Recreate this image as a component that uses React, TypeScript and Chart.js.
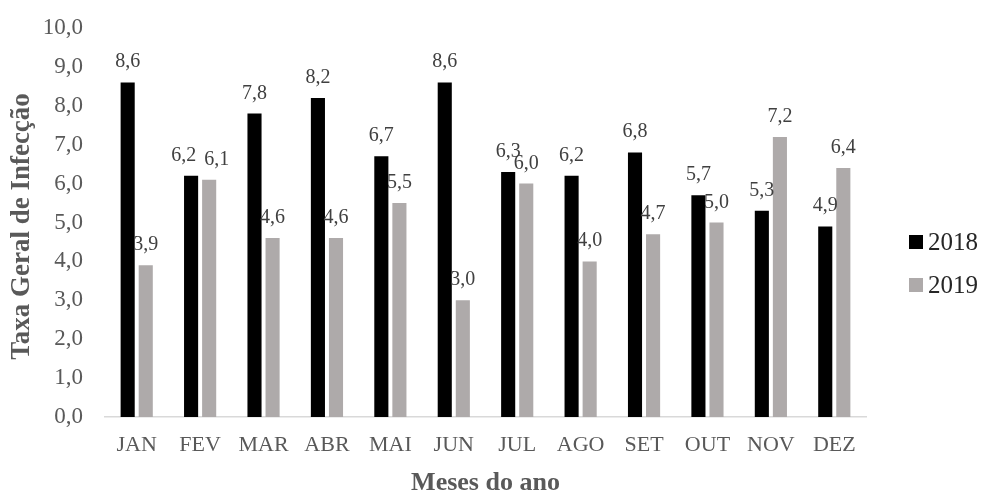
import React, { useEffect, useRef } from "react";
import { Chart, registerables } from "chart.js";

Chart.register(...registerables);

const months = ["JAN", "FEV", "MAR", "ABR", "MAI", "JUN", "JUL", "AGO", "SET", "OUT", "NOV", "DEZ"];
const rate2018 = [8.6, 6.2, 7.8, 8.2, 6.7, 8.6, 6.3, 6.2, 6.8, 5.7, 5.3, 4.9];
const rate2019 = [3.9, 6.1, 4.6, 4.6, 5.5, 3.0, 6.0, 4.0, 4.7, 5.0, 7.2, 6.4];
const seriesNames = ["2018", "2019"];
const seriesColors = ["#000000", "#AEAAAA"];
const xTitle = "Meses do ano";
const yTitle = "Taxa Geral de Infecção";

const FONT = "'Liberation Serif', 'Times New Roman', serif";
const fmt = (v: number) => v.toFixed(1).replace(".", ",");

// Value labels above each bar; the two labels of a month are pushed apart
// sideways when they would sit on top of each other.
const valueLabels = {
  id: "valueLabels",
  afterDatasetsDraw(chart: any) {
    const ctx = chart.ctx;
    ctx.save();
    ctx.font = `20px ${FONT}`;
    ctx.fillStyle = "#404040";
    ctx.textAlign = "center";
    ctx.textBaseline = "alphabetic";
    const a = chart.getDatasetMeta(0).data;
    const b = chart.getDatasetMeta(1).data;
    const da = chart.data.datasets[0].data;
    const db = chart.data.datasets[1].data;
    for (let i = 0; i < a.length; i++) {
      const ta = fmt(da[i]);
      const tb = fmt(db[i]);
      let xa = a[i].x;
      let xb = b[i].x;
      const ya = a[i].y - 15;
      const yb = b[i].y - 15;
      const wa = ctx.measureText(ta).width;
      const wb = ctx.measureText(tb).width;
      const need = (wa + wb) / 2 + 8;
      if (Math.abs(ya - yb) < 10 && xb - xa < need) {
        const mid = (xa + xb) / 2;
        xa = mid - need / 2;
        xb = mid + need / 2;
      }
      ctx.fillText(ta, xa, ya);
      ctx.fillText(tb, xb, yb);
    }
    ctx.restore();
  },
};

// Axis titles
const axisTitles = {
  id: "axisTitles",
  afterDraw(chart: any) {
    const ctx = chart.ctx;
    const area = chart.chartArea;
    ctx.save();
    ctx.fillStyle = "#595959";
    ctx.textAlign = "center";
    ctx.textBaseline = "alphabetic";
    ctx.font = `bold 26px ${FONT}`;
    ctx.fillText(xTitle, (area.left + area.right) / 2, 490);
    ctx.translate(29, (area.top + area.bottom) / 2 + 4);
    ctx.rotate(-Math.PI / 2);
    ctx.font = `bold 27px ${FONT}`;
    ctx.fillText(yTitle, 0, 0);
    ctx.restore();
  },
};

// Legend to the right of the plot
const sideLegend = {
  id: "sideLegend",
  afterDraw(chart: any) {
    const ctx = chart.ctx;
    ctx.save();
    ctx.font = `25px ${FONT}`;
    ctx.textBaseline = "middle";
    ctx.textAlign = "left";
    const x = chart.chartArea.right + 43;
    const y0 = 242;
    seriesNames.forEach((name, i) => {
      const y = y0 + i * 43;
      ctx.fillStyle = seriesColors[i];
      ctx.fillRect(x, y - 7, 14, 14);
      ctx.fillStyle = "#262626";
      ctx.fillText(name, x + 19, y + 1);
    });
    ctx.restore();
  },
};

export default function App() {
  const ref = useRef<HTMLCanvasElement>(null);
  useEffect(() => {
    if (!ref.current) return;
    const chart = new Chart(ref.current, {
      type: "bar",
      data: {
        labels: months,
        datasets: seriesNames.map((name, i) => ({
          label: name,
          data: i === 0 ? rate2018 : rate2019,
          backgroundColor: seriesColors[i],
          categoryPercentage: 0.57,
          barPercentage: 0.78,
        })),
      },
      options: {
        animation: false,
        responsive: true,
        maintainAspectRatio: false,
        layout: { padding: { top: 28, right: 116, left: 0, bottom: 0 } },
        plugins: { legend: { display: false }, tooltip: { enabled: false } },
        scales: {
          x: {
            grid: { display: false, drawTicks: false },
            border: { display: true, color: "#D9D9D9", width: 1.5 },
            ticks: { color: "#595959", font: { family: FONT, size: 22 }, padding: 15 },
            afterFit(scale: any) {
              scale.height = 75;
              scale.paddingLeft = 0;
              scale.paddingRight = 0;
            },
          },
          y: {
            min: 0,
            max: 10,
            grid: { display: false, drawTicks: false },
            border: { display: false },
            ticks: {
              stepSize: 1,
              color: "#595959",
              font: { family: FONT, size: 23 },
              padding: 22,
              callback: (v: any) => fmt(Number(v)),
            },
            afterFit(scale: any) {
              scale.width = 105;
              scale.paddingTop = 0;
              scale.paddingBottom = 0;
            },
          },
        },
      },
      plugins: [valueLabels, axisTitles, sideLegend],
    });
    return () => chart.destroy();
  }, []);
  return (
    <div style={{ position: "fixed", left: 0, top: 0, width: 982, height: 492, background: "#fff" }}>
      <canvas ref={ref} />
    </div>
  );
}
